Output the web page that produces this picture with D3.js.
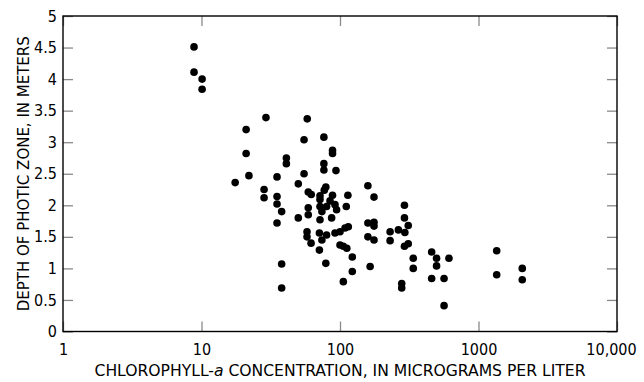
<!DOCTYPE html>
<html>
<head>
<meta charset="utf-8">
<script src="https://cdn.jsdelivr.net/npm/d3@7"></script>
<style>
  body { margin: 0; background: #fff; }
  text { font-family: "Liberation Sans Narrow", "DejaVu Sans Condensed", sans-serif; fill: #000; }
</style>
</head>
<body>
<script>
const WIDTH = 644
const HEIGHT = 382

// Valeurs
const chlorophyll = [
  8.83, 8.83, 10.1, 10.1, 21, 21, 22, 17.5, 29.2, 58, 55, 76.5, 88.3, 88.3,
  41, 41, 76.5, 76.5, 93.5, 55, 35.1, 50, 159, 28.3, 28.3, 35.1, 35.1, 37.9,
  35.1, 37.9, 37.9, 59, 62, 71.7, 71.7, 79, 77, 88.3, 114, 176, 59, 59, 50,
  71.7, 74, 80, 92, 94.5, 111, 71.7, 87, 57.8, 57.8, 61.8, 71, 74, 71, 80,
  92, 100, 108.7, 114.8, 100, 105.7, 112, 122.7, 122.7, 105.7, 79, 165, 159,
  176, 176, 159, 176, 230, 230, 264, 292, 292, 311, 294, 292, 311, 338, 338,
  279, 279, 459, 498, 498, 612, 459, 564, 564, 1353, 1353, 2070, 2070, 84.7
]
const depth = [
  4.51, 4.11, 4.0, 3.84, 3.2, 2.82, 2.47, 2.36, 3.39, 3.37, 3.04, 3.08, 2.87, 2.82,
  2.75, 2.66, 2.66, 2.56, 2.55, 2.5, 2.45, 2.34, 2.31, 2.25, 2.12, 2.14, 2.02, 1.9,
  1.72, 1.07, 0.69, 2.21, 2.17, 2.15, 2.09, 2.29, 2.24, 2.16, 2.16, 2.13, 1.96, 1.85, 1.8,
  1.98, 1.9, 1.98, 2.01, 1.93, 1.98, 1.77, 1.8, 1.58, 1.5, 1.4, 1.56, 1.45, 1.29, 1.53,
  1.56, 1.58, 1.64, 1.66, 1.37, 1.35, 1.32, 1.18, 0.95, 0.79, 1.08, 1.03, 1.72,
  1.73, 1.67, 1.5, 1.45, 1.58, 1.44, 1.61, 2.0, 1.8, 1.68, 1.57, 1.35, 1.39, 1.16, 1.0,
  0.76, 0.69, 1.26, 1.16, 1.04, 1.16, 0.84, 0.84, 0.41, 1.28, 0.9, 1.0, 0.82, 2.07
]
const xTicks = [1, 10, 100, 1000, 10000]
const yTicks = [0, 0.5, 1, 1.5, 2, 2.5, 3, 3.5, 4, 4.5, 5]

const points = chlorophyll.map((c, i) => ({ c: c, d: depth[i] }))

const plotLeft = 63, plotRight = 617, plotTop = 16, plotBottom = 331.5

const svg = d3.select("body").append("svg")
    .attr("width", WIDTH)
    .attr("height", HEIGHT)

const x = d3.scaleLog().domain([1, 10000]).range([plotLeft, plotRight])
const y = d3.scaleLinear().domain([0, 5]).range([plotBottom, plotTop])

const fmt = d => d === 10000 ? "10,000" : String(d)

// Axes
const gBottom = svg.append("g")
    .attr("transform", `translate(0,${plotBottom})`)
    .call(d3.axisBottom(x).tickValues(xTicks).tickFormat(fmt).tickSize(-10).tickPadding(12))
const gTop = svg.append("g")
    .attr("transform", `translate(0,${plotTop})`)
    .call(d3.axisTop(x).tickValues(xTicks).tickFormat("").tickSize(-10))
const gLeft = svg.append("g")
    .attr("transform", `translate(${plotLeft},0)`)
    .call(d3.axisLeft(y).tickValues(yTicks).tickFormat(d3.format("")).tickSize(-10).tickPadding(6))
const gRight = svg.append("g")
    .attr("transform", `translate(${plotRight},0)`)
    .call(d3.axisRight(y).tickValues(yTicks).tickFormat("").tickSize(-10))

for (const g of [gBottom, gTop, gLeft, gRight]) {
  g.select(".domain").remove()
  g.selectAll(".tick line").attr("stroke", "#8a8a8a").attr("stroke-width", 1.3)
  g.selectAll("text").attr("font-size", 16).attr("font-family", null)
}
// le dernier libellé est décalé vers la gauche comme sur l'original
gBottom.selectAll(".tick text").filter(d => d === 10000).attr("dx", -6)

// Cadre
svg.append("rect")
    .attr("x", plotLeft)
    .attr("y", plotTop)
    .attr("width", plotRight - plotLeft)
    .attr("height", plotBottom - plotTop)
    .attr("fill", "none")
    .attr("stroke", "#000")
    .attr("stroke-width", 1.4)

// Points
svg.append("g")
  .selectAll("circle")
  .data(points)
  .enter()
  .append("circle")
    .attr("cx", d => x(d.c))
    .attr("cy", d => y(d.d))
    .attr("r", 3.8)
    .attr("fill", "#000")

// Titres
const xTitle = svg.append("text")
    .attr("x", (plotLeft + plotRight) / 2)
    .attr("y", 376)
    .attr("text-anchor", "middle")
    .attr("font-size", 16.5)
    .attr("textLength", 491)
    .attr("lengthAdjust", "spacingAndGlyphs")
xTitle.append("tspan").text("CHLOROPHYLL-")
xTitle.append("tspan").attr("font-style", "italic").text("a")
xTitle.append("tspan").text(" CONCENTRATION, IN MICROGRAMS PER LITER")

svg.append("text")
    .attr("transform", `translate(29,${(plotTop + plotBottom) / 2}) rotate(-90)`)
    .attr("text-anchor", "middle")
    .attr("font-size", 16.5)
    .attr("textLength", 275)
    .attr("lengthAdjust", "spacingAndGlyphs")
    .text("DEPTH OF PHOTIC ZONE, IN METERS")
</script>
</body>
</html>
